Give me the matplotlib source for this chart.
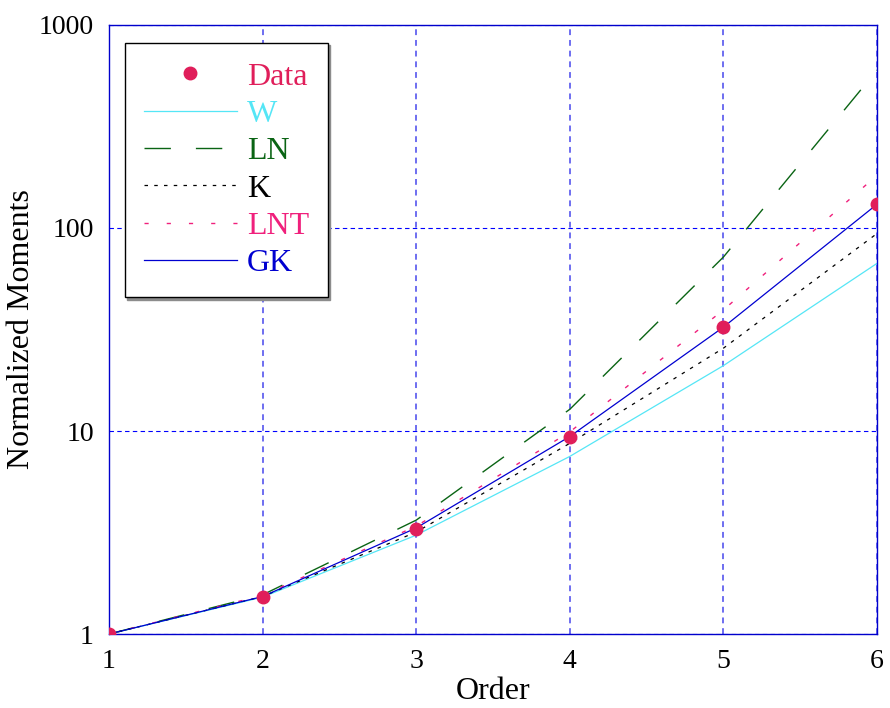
import matplotlib
matplotlib.use("Agg")
import matplotlib.pyplot as plt
from matplotlib.ticker import FixedLocator, FixedFormatter, NullLocator

plt.rcParams['font.family'] = ['Liberation Serif', 'DejaVu Serif']

# values
order = [1, 2, 3, 4, 5, 6]
data_vals = [1.0, 1.52, 3.30, 9.34, 32.5, 131]
w_vals = [1.0, 1.52, 3.07, 7.5, 21.0, 67]
ln_vals = [1.0, 1.56, 3.64, 12.8, 72, 600]
k_vals = [1.0, 1.53, 3.18, 8.7, 25.6, 94]
lnt_vals = [1.0, 1.55, 3.40, 9.9, 39.5, 182]
gk_vals = [1.0, 1.53, 3.33, 9.4, 32.5, 131]

ytick_vals = [1, 10, 100, 1000]
ytick_labels = ['1', '10', '100', '1000']

c_data = '#E01E5A'
c_w = '#55E6F6'
c_ln = '#0A6414'
c_k = '#000000'
c_lnt = '#F0207C'
c_gk = '#0000D0'

fig = plt.figure(figsize=(8.9, 7.08), dpi=100)
ax = fig.add_axes([0.1225, 0.1045, 0.863, 0.8602])

ax.plot(order, data_vals, linestyle='none', marker='o', markersize=9,
        color=c_data, label='Data', zorder=5)
ax.plot(order, w_vals, color=c_w, lw=0.9, label='W')
ax.plot(order, ln_vals, color=c_ln, lw=1, dashes=(19, 18), label='LN')
ax.plot(order, k_vals, color=c_k, lw=0.9, dashes=(2.8, 5.0), label='K')
ax.plot(order, lnt_vals, color=c_lnt, lw=1, dashes=(3, 13), label='LNT')
ax.plot(order, gk_vals, color=c_gk, lw=0.9, label='GK')

ax.set_yscale('log')
ax.set_xlim(1, 6)
ax.set_ylim(1, 1000)
ax.yaxis.set_major_locator(FixedLocator(ytick_vals))
ax.yaxis.set_major_formatter(FixedFormatter(ytick_labels))
ax.yaxis.set_minor_locator(NullLocator())
ax.set_xticks(order)
ax.tick_params(length=0, labelsize=20, pad=11)

# horizontal grid thin blue, vertical grid a bit wider and lighter
ax.yaxis.grid(True, color='#0000FF', lw=0.8, dashes=(4, 3))
ax.xaxis.grid(True, color='#6E6EF0', lw=1.4, dashes=(3, 2.5))
for sp in ax.spines.values():
    sp.set_color('#0000CC')
    sp.set_linewidth(1)

ax.set_xlabel('Order', fontsize=23, labelpad=2)
ax.set_ylabel('Normalized Moments', fontsize=23, labelpad=2)

leg = ax.legend(loc='upper left', bbox_to_anchor=(0.0208, 0.9704), borderaxespad=0,
                fontsize=23, handlelength=2.9, handletextpad=0.32, labelspacing=0.25,
                borderpad=0.6, fancybox=False, framealpha=1, edgecolor='black',
                shadow={'ox': 1.5, 'oy': -1.5, 'color': '0.55', 'alpha': 1})
leg.get_frame().set_linewidth(1)
for txt, col in zip(leg.get_texts(), [c_data, c_w, c_ln, c_k, c_lnt, c_gk]):
    txt.set_color(col)

fig.savefig('out.png', dpi=100)
